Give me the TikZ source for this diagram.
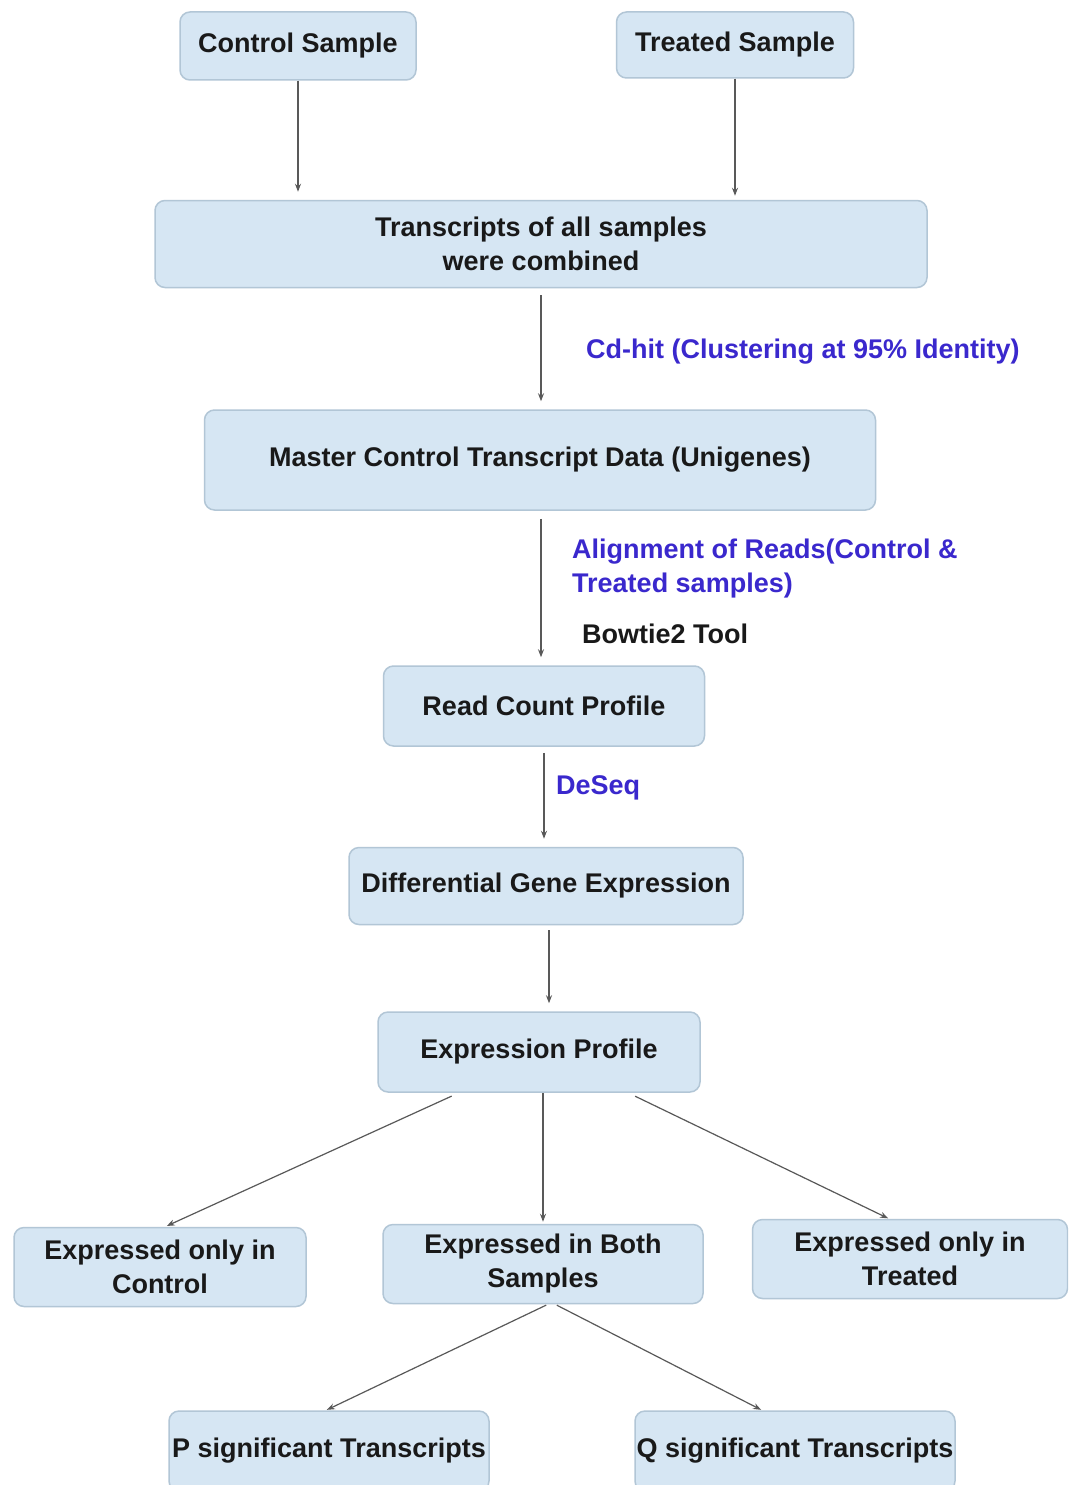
\documentclass[tikz,border=0pt]{standalone}
\usepackage{fontspec}
\setmainfont{Liberation Sans}
\usetikzlibrary{arrows.meta}
\definecolor{boxfill}{RGB}{214,230,243}
\definecolor{boxline}{RGB}{178,198,214}
\definecolor{labelblue}{RGB}{58,40,205}
\tikzset{
	box/.style={draw=boxline, fill=boxfill, line width=1.5pt, rounded corners=10pt, align=center, inner sep=0pt, text=black!90},
	link/.style={draw=black!65, line width=1.2pt, -{Stealth[length=8pt,width=6pt]}, color=black!65},
	lbl/.style={anchor=west, align=left, inner sep=0pt}
}
\begin{document}
\begin{tikzpicture}[x=1pt, y=-1pt, font=\fontsize{27}{34}\selectfont\bfseries, line join=round]
			\clip (0,0) rectangle (1068,1485);
			\fill[white] (0,0) rectangle (1068,1485);
			\node[box, minimum width=236pt, minimum height=68pt] (cs) at (298,46) {Control Sample};
			\node[box, minimum width=237pt, minimum height=66pt] (ts) at (735,45) {Treated Sample};
			\node[box, minimum width=772pt, minimum height=87pt] (tc) at (541,244) {Transcripts of all samples\\were combined};
			\node[box, minimum width=671pt, minimum height=100pt] (mc) at (540,460) {Master Control Transcript Data (Unigenes)};
			\node[box, minimum width=321pt, minimum height=80pt] (rc) at (544,706) {Read Count Profile};
			\node[box, minimum width=394pt, minimum height=77pt] (dg) at (546,886) {Differential Gene Expression};
			\node[box, minimum width=322pt, minimum height=80pt] (ep) at (539,1052) {Expression Profile};
			\node[box, minimum width=292pt, minimum height=79pt] (oc) at (160,1267) {Expressed only in\\Control};
			\node[box, minimum width=320pt, minimum height=79pt] (eb) at (543,1264) {Expressed in Both\\Samples};
			\node[box, minimum width=315pt, minimum height=79pt] (ot) at (910,1259) {Expressed only in\\Treated};
			\node[box, minimum width=320pt, minimum height=80pt] (ps) at (329,1451) {P significant Transcripts};
			\node[box, minimum width=320pt, minimum height=80pt] (qs) at (795,1451) {Q significant Transcripts};
			% labels on the arrows
			\node[lbl, text=labelblue] (cdhit) at (586,352) {Cd-hit (Clustering at 95\% Identity)};
			\node[lbl, text=labelblue] (align) at (572,569) {Alignment of Reads(Control \&\\Treated samples)};
			\node[lbl, text=black!90] (bowtie) at (582,634) {Bowtie2 Tool};
			\node[lbl, text=labelblue] (deseq) at (556,788) {DeSeq};
			% arrows
			\draw[link, shorten >=8pt] (cs.south) -- (cs.south |- tc.north);
			\draw[link, shorten >=4pt] (ts.south) -- (ts.south |- tc.north);
			\draw[link, shorten <=7pt, shorten >=8pt] (tc.south) -- (tc.south |- mc.north);
			\draw[link, shorten <=8pt, shorten >=8pt] ([xshift=1pt]mc.south) -- ([xshift=1pt]mc.south |- rc.north);
			\draw[link, shorten <=6pt, shorten >=8pt] (rc.south) -- (rc.south |- dg.north);
			\draw[link, shorten <=5pt, shorten >=8pt] ([xshift=3pt]dg.south) -- ([xshift=3pt]dg.south |- ep.north);
			\draw[link, shorten <=8pt, shorten >=2pt] ([xshift=-80pt]ep.south) -- ([xshift=5pt]oc.north);
			\draw[link, shorten >=2pt] (eb.north |- ep.south) -- (eb.north);
			\draw[link, shorten <=8pt, shorten >=1pt] ([xshift=89pt]ep.south) -- ([xshift=-21pt]ot.north);
			\draw[link, shorten <=2pt, shorten >=1pt] ([xshift=5pt]eb.south) -- ([xshift=-3pt]ps.north);
			\draw[link, shorten <=2pt, shorten >=1pt] ([xshift=12pt]eb.south) -- ([xshift=-33pt]qs.north);
		\end{tikzpicture}
\end{document}
